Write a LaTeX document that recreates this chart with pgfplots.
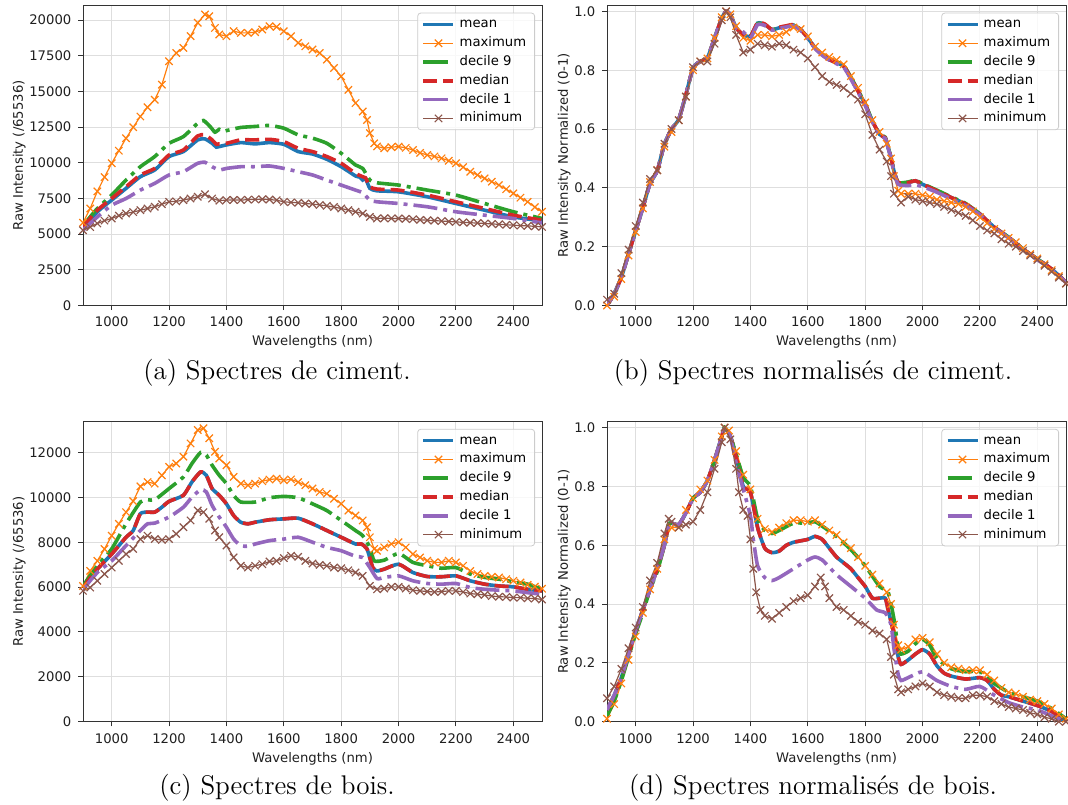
\documentclass[border=0pt]{standalone}
\usepackage{fontspec}
\usepackage{pgfplots}
\pgfplotsset{compat=1.18}
\newfontfamily\dv{DejaVu Sans}
\definecolor{c1}{HTML}{1F77B4}
\definecolor{c2}{HTML}{FF7F0E}
\definecolor{c3}{HTML}{2CA02C}
\definecolor{c4}{HTML}{D62728}
\definecolor{c5}{HTML}{9467BD}
\definecolor{c6}{HTML}{8C564B}
\newcommand{\mplfont}{\dv\fontsize{6.6}{7.9}\selectfont}
\pgfplotsset{
  meanS/.style={color=c1, line width=1.8pt, smooth, tension=0.35},
  maxS/.style={color=c2, line width=0.6pt, mark=x, mark size=2.6pt, mark options={solid, line width=0.6pt}},
  d9S/.style={color=c3, line width=1.8pt, smooth, tension=0.35, dash pattern=on 12pt off 3pt on 2pt off 3pt},
  medS/.style={color=c4, line width=1.8pt, smooth, tension=0.35, dash pattern=on 7pt off 3pt},
  d1S/.style={color=c5, line width=1.8pt, smooth, tension=0.35, dash pattern=on 12pt off 3pt on 2pt off 3pt},
  minS/.style={color=c6, line width=0.6pt, mark=x, mark size=2.6pt, mark options={solid, line width=0.6pt}},
  base/.style={
    width=229.5pt, height=150pt, scale only axis,
    xmin=900, xmax=2500, ymin=0,
    xtick={1000,1200,...,2400},
    scaled ticks=false,
    grid=major, major grid style={line width=0.5pt, draw=black!13},
    axis line style={line width=0.5pt, draw=black!80},
    every tick/.style={line width=0.5pt, draw=black!80},
    tick align=outside, major tick length=2.3pt,
    xtick pos=left, ytick pos=left,
    tick label style={font=\mplfont, color=black!88},
    label style={font=\mplfont, color=black!88},
    ylabel shift=-5pt, xlabel shift=-2.5pt,
    /pgf/number format/assume math mode=true,
    /pgf/number format/1000 sep={},
    xlabel={Wavelengths (nm)},
    legend cell align=left,
    legend style={at={(1,1)}, anchor=north east, xshift=-3.5pt, yshift=-3.6pt,
      draw=black!20, rounded corners=1.5pt, fill=white, fill opacity=0.8, text opacity=1,
      font=\mplfont, inner xsep=2pt, inner ysep=1.5pt, row sep=1.1pt,
      nodes={inner ysep=1pt, inner xsep=2.2pt, text height=4.9pt, text depth=1.4pt}},
    legend image code/.code={\draw[mark repeat=2,mark phase=2] plot coordinates {(0pt,0pt) (7.5pt,0pt) (15pt,0pt)};},
  },
  normy/.style={ymax=1.02, ytick={0,0.2,...,1.0},
    yticklabel style={/pgf/number format/.cd, fixed, fixed zerofill, precision=1},
    ylabel={Raw Intensity Normalized (0-1)}},
}
\begin{document}
\begin{tikzpicture}
\path[use as bounding box] (0,0) rectangle (534pt,402pt);

% ---------------- (a) cement raw
\begin{axis}[base, at={(41.5pt,249.25pt)}, anchor=south west,
  ymax=21030, ytick={0,2500,...,20000}, ylabel={Raw Intensity (/65536)}]
\addplot[meanS] coordinates {(900,5390)(950,6570)(1000,7390)(1050,8210)(1100,9030)(1150,9500)(1200,10440)(1250,10790)(1300,11610)(1325,11680)(1350,11370)(1365,11100)(1375,11140)(1400,11260)(1450,11420)(1500,11330)(1550,11420)(1600,11300)(1650,10790)(1700,10620)(1750,10250)(1800,9730)(1850,9080)(1865,9000)(1875,8800)(1885,8900)(1900,8210)(1925,8040)(2000,7970)(2100,7620)(2200,7150)(2300,6680)(2400,6210)(2500,5930)};
\addlegendentry{mean}
\addplot[maxS] coordinates {(900,5800)(925,6800)(950,8000)(975,9000)(1000,9970)(1025,10850)(1050,11720)(1075,12500)(1100,13250)(1125,13900)(1150,14420)(1175,15480)(1200,17120)(1225,17700)(1250,18060)(1275,18880)(1300,19820)(1325,20400)(1340,20280)(1360,19460)(1375,19000)(1400,18880)(1425,19230)(1450,19110)(1475,19110)(1500,19160)(1525,19350)(1550,19580)(1575,19530)(1600,19230)(1625,18880)(1650,18410)(1675,18170)(1700,17940)(1725,17700)(1750,17240)(1775,16650)(1800,16060)(1825,15120)(1850,14190)(1875,13600)(1890,13000)(1900,12080)(1915,11370)(1925,11150)(1950,11020)(1975,11100)(2000,11140)(2025,11050)(2050,10900)(2075,10700)(2100,10550)(2125,10450)(2150,10320)(2175,10150)(2200,9970)(2225,9700)(2250,9380)(2275,9150)(2300,8910)(2325,8680)(2350,8440)(2375,8150)(2400,7860)(2425,7560)(2450,7270)(2475,6900)(2500,6570)};
\addlegendentry{maximum}
\addplot[d9S] coordinates {(900,5600)(950,6800)(1000,7740)(1050,8790)(1100,9730)(1150,10440)(1200,11370)(1250,11840)(1300,12780)(1320,12970)(1345,12500)(1360,12150)(1375,12350)(1390,12200)(1400,12260)(1450,12480)(1500,12550)(1550,12620)(1600,12430)(1650,11960)(1700,11730)(1750,11370)(1800,10670)(1850,9850)(1875,9610)(1900,8790)(1925,8600)(2000,8440)(2100,8090)(2200,7740)(2300,7150)(2400,6570)(2500,6100)};
\addlegendentry{decile 9}
\addplot[medS] coordinates {(900,5510)(950,6680)(1000,7500)(1050,8320)(1100,9150)(1150,9610)(1200,10550)(1250,10900)(1300,11890)(1325,11960)(1350,11610)(1365,11300)(1375,11330)(1400,11370)(1450,11610)(1500,11610)(1550,11650)(1600,11490)(1650,11020)(1700,10790)(1750,10440)(1800,9970)(1850,9260)(1875,9030)(1885,8950)(1900,8320)(1925,8160)(2000,8090)(2100,7740)(2200,7270)(2300,6800)(2400,6330)(2500,5980)};
\addlegendentry{median}
\addplot[d1S] coordinates {(900,5280)(950,6210)(1000,7030)(1050,7500)(1100,8090)(1150,8560)(1200,9150)(1250,9380)(1300,9970)(1325,10040)(1350,9730)(1375,9500)(1400,9610)(1450,9730)(1500,9730)(1550,9780)(1600,9610)(1650,9380)(1700,9150)(1750,8790)(1800,8440)(1850,8090)(1875,7900)(1900,7390)(1925,7270)(2000,7150)(2100,6920)(2200,6570)(2300,6330)(2400,6100)(2500,5790)};
\addlegendentry{decile 1}
\addplot[minS] coordinates {(900,5280)(925,5500)(950,5750)(975,5950)(1000,6100)(1025,6300)(1050,6450)(1075,6550)(1100,6680)(1125,6800)(1150,6920)(1175,7100)(1200,7270)(1225,7300)(1250,7390)(1275,7500)(1300,7620)(1325,7800)(1350,7500)(1375,7350)(1400,7390)(1425,7400)(1450,7390)(1475,7420)(1500,7430)(1525,7450)(1550,7430)(1575,7380)(1600,7270)(1625,7230)(1650,7200)(1675,7150)(1700,7110)(1725,7050)(1750,6990)(1775,6900)(1800,6800)(1825,6680)(1850,6570)(1875,6450)(1900,6210)(1925,6100)(1950,6120)(1975,6100)(2000,6100)(2025,6080)(2050,6050)(2075,6000)(2100,5980)(2125,5950)(2150,5920)(2175,5890)(2200,5860)(2225,5830)(2250,5800)(2275,5780)(2300,5750)(2325,5720)(2350,5690)(2375,5660)(2400,5630)(2425,5600)(2450,5580)(2475,5550)(2500,5510)};
\addlegendentry{minimum}
\end{axis}

% ---------------- (b) cement normalized
\begin{axis}[base, normy, at={(303.5pt,249.25pt)}, anchor=south west]
\addplot[meanS] coordinates {(900,0.0)(925,0.04)(950,0.096)(975,0.175)(1000,0.254)(1025,0.333)(1050,0.415)(1075,0.458)(1100,0.548)(1125,0.60)(1150,0.633)(1175,0.717)(1200,0.808)(1225,0.83)(1250,0.842)(1275,0.91)(1300,0.977)(1315,1.0)(1330,0.989)(1350,0.944)(1375,0.921)(1400,0.915)(1425,0.96)(1450,0.955)(1475,0.938)(1500,0.944)(1525,0.949)(1550,0.953)(1575,0.938)(1600,0.91)(1625,0.876)(1650,0.853)(1675,0.836)(1700,0.825)(1725,0.814)(1750,0.774)(1775,0.729)(1800,0.684)(1825,0.627)(1850,0.582)(1870,0.57)(1880,0.537)(1890,0.503)(1900,0.458)(1915,0.418)(1950,0.418)(1975,0.424)(2000,0.412)(2050,0.39)(2100,0.367)(2150,0.345)(2200,0.311)(2250,0.266)(2300,0.232)(2350,0.192)(2400,0.158)(2450,0.124)(2500,0.079)};
\addlegendentry{mean}
\addplot[maxS] coordinates {(900,0.0)(925,0.03)(950,0.09)(975,0.17)(1000,0.25)(1025,0.33)(1050,0.42)(1075,0.46)(1100,0.54)(1125,0.59)(1150,0.63)(1175,0.71)(1200,0.80)(1225,0.83)(1250,0.84)(1275,0.91)(1300,0.98)(1315,1.0)(1330,0.99)(1350,0.95)(1375,0.91)(1400,0.90)(1425,0.92)(1450,0.92)(1475,0.915)(1500,0.92)(1525,0.93)(1550,0.945)(1575,0.94)(1600,0.915)(1625,0.88)(1650,0.86)(1675,0.845)(1700,0.835)(1725,0.82)(1750,0.78)(1775,0.74)(1800,0.69)(1825,0.63)(1850,0.59)(1875,0.55)(1890,0.50)(1900,0.44)(1915,0.39)(1925,0.38)(1950,0.38)(1975,0.38)(2000,0.375)(2025,0.37)(2050,0.36)(2075,0.355)(2100,0.35)(2125,0.345)(2150,0.335)(2175,0.32)(2200,0.30)(2225,0.28)(2250,0.26)(2275,0.245)(2300,0.23)(2325,0.215)(2350,0.195)(2375,0.175)(2400,0.16)(2425,0.14)(2450,0.12)(2475,0.10)(2500,0.075)};
\addlegendentry{maximum}
\addplot[d9S] coordinates {(900,0.0)(925,0.04)(950,0.096)(975,0.175)(1000,0.254)(1025,0.333)(1050,0.415)(1075,0.458)(1100,0.548)(1125,0.60)(1150,0.633)(1175,0.717)(1200,0.808)(1225,0.83)(1250,0.842)(1275,0.91)(1300,0.977)(1315,1.0)(1330,0.989)(1350,0.944)(1375,0.921)(1400,0.915)(1425,0.958)(1450,0.955)(1475,0.938)(1500,0.944)(1525,0.949)(1550,0.953)(1575,0.938)(1600,0.91)(1625,0.876)(1650,0.853)(1675,0.836)(1700,0.827)(1725,0.816)(1750,0.776)(1775,0.731)(1800,0.686)(1825,0.627)(1850,0.584)(1870,0.572)(1880,0.537)(1890,0.503)(1900,0.458)(1915,0.418)(1950,0.42)(1975,0.426)(2000,0.414)(2050,0.392)(2100,0.369)(2150,0.347)(2200,0.311)(2250,0.266)(2300,0.232)(2350,0.192)(2400,0.158)(2450,0.124)(2500,0.079)};
\addlegendentry{decile 9}
\addplot[medS] coordinates {(900,0.0)(925,0.04)(950,0.096)(975,0.175)(1000,0.254)(1025,0.333)(1050,0.415)(1075,0.458)(1100,0.548)(1125,0.60)(1150,0.633)(1175,0.717)(1200,0.808)(1225,0.83)(1250,0.842)(1275,0.91)(1300,0.977)(1315,1.0)(1330,0.989)(1350,0.944)(1375,0.921)(1400,0.915)(1425,0.962)(1450,0.957)(1475,0.938)(1500,0.946)(1525,0.951)(1550,0.955)(1575,0.938)(1600,0.91)(1625,0.876)(1650,0.853)(1675,0.836)(1700,0.825)(1725,0.814)(1750,0.774)(1775,0.729)(1800,0.684)(1825,0.627)(1850,0.582)(1870,0.57)(1880,0.537)(1890,0.503)(1900,0.458)(1915,0.418)(1950,0.418)(1975,0.424)(2000,0.412)(2050,0.39)(2100,0.367)(2150,0.345)(2200,0.311)(2250,0.266)(2300,0.232)(2350,0.192)(2400,0.158)(2450,0.124)(2500,0.079)};
\addlegendentry{median}
\addplot[d1S] coordinates {(900,0.0)(925,0.04)(950,0.096)(975,0.175)(1000,0.254)(1025,0.333)(1050,0.415)(1075,0.458)(1100,0.548)(1125,0.60)(1150,0.633)(1175,0.717)(1200,0.808)(1225,0.83)(1250,0.842)(1275,0.91)(1300,0.977)(1315,1.0)(1330,0.989)(1350,0.944)(1375,0.93)(1400,0.91)(1425,0.955)(1450,0.952)(1475,0.936)(1500,0.942)(1525,0.947)(1550,0.951)(1575,0.936)(1600,0.908)(1625,0.874)(1650,0.851)(1675,0.834)(1700,0.822)(1725,0.81)(1750,0.77)(1775,0.725)(1800,0.68)(1825,0.624)(1850,0.58)(1870,0.568)(1880,0.535)(1890,0.50)(1900,0.455)(1915,0.412)(1950,0.408)(1975,0.41)(2000,0.404)(2050,0.385)(2100,0.362)(2150,0.34)(2200,0.308)(2250,0.264)(2300,0.23)(2350,0.19)(2400,0.156)(2450,0.122)(2500,0.078)};
\addlegendentry{decile 1}
\addplot[minS] coordinates {(900,0.02)(925,0.04)(950,0.11)(975,0.19)(1000,0.27)(1025,0.35)(1050,0.43)(1075,0.46)(1100,0.55)(1125,0.60)(1150,0.63)(1175,0.71)(1200,0.81)(1225,0.83)(1250,0.83)(1275,0.89)(1300,0.97)(1315,1.0)(1330,0.98)(1350,0.92)(1375,0.86)(1400,0.87)(1425,0.89)(1450,0.885)(1475,0.88)(1500,0.89)(1525,0.885)(1550,0.87)(1575,0.86)(1600,0.84)(1625,0.81)(1650,0.78)(1675,0.76)(1700,0.75)(1725,0.74)(1750,0.72)(1775,0.70)(1800,0.65)(1825,0.58)(1850,0.53)(1875,0.49)(1890,0.44)(1900,0.38)(1925,0.35)(1950,0.37)(1975,0.36)(2000,0.355)(2025,0.35)(2050,0.345)(2075,0.335)(2100,0.325)(2125,0.315)(2150,0.305)(2175,0.29)(2200,0.27)(2225,0.255)(2250,0.245)(2275,0.225)(2300,0.21)(2325,0.2)(2350,0.185)(2375,0.17)(2400,0.155)(2425,0.135)(2450,0.115)(2475,0.095)(2500,0.075)};
\addlegendentry{minimum}
\end{axis}

% ---------------- (c) wood raw
\begin{axis}[base, at={(41.5pt,41.15pt)}, anchor=south west,
  ymax=13370, ytick={0,2000,...,12000}, ylabel={Raw Intensity (/65536)}]
\addplot[meanS] coordinates {(900,5980)(950,6800)(1000,7470)(1050,8220)(1075,8520)(1100,9270)(1125,9340)(1150,9340)(1175,9560)(1200,9820)(1250,10090)(1280,10690)(1310,11130)(1330,10980)(1350,10390)(1375,10090)(1400,9710)(1425,9190)(1450,8890)(1475,8820)(1500,8890)(1550,9000)(1600,9040)(1650,9070)(1700,8820)(1750,8520)(1800,8220)(1850,7920)(1870,7920)(1890,7700)(1910,6870)(1925,6720)(1950,6800)(2000,7020)(2050,6650)(2100,6470)(2150,6460)(2200,6500)(2250,6280)(2300,6130)(2350,6050)(2400,6010)(2450,5900)(2500,5830)};
\addlegendentry{mean}
\addplot[maxS] coordinates {(900,6050)(925,6720)(950,7170)(975,7700)(1000,8290)(1025,8820)(1050,9340)(1075,9830)(1100,10490)(1125,10680)(1150,10610)(1175,10980)(1200,11360)(1225,11510)(1250,11810)(1275,12400)(1300,13000)(1320,13080)(1340,12630)(1360,12030)(1375,11730)(1400,11430)(1425,10910)(1450,10610)(1475,10540)(1500,10610)(1525,10720)(1550,10790)(1575,10830)(1600,10760)(1625,10800)(1650,10680)(1675,10540)(1700,10390)(1725,10240)(1750,10160)(1775,9940)(1800,9710)(1825,9410)(1850,9190)(1875,8970)(1890,8670)(1900,8220)(1915,7700)(1925,7620)(1950,7770)(1975,7920)(2000,8000)(2025,7770)(2050,7470)(2075,7320)(2100,7170)(2125,7100)(2150,7100)(2175,7170)(2200,7100)(2225,6950)(2250,6720)(2275,6580)(2300,6500)(2325,6460)(2350,6430)(2375,6350)(2400,6280)(2425,6200)(2450,6100)(2475,6020)(2500,5930)};
\addlegendentry{maximum}
\addplot[d9S] coordinates {(900,6050)(950,6950)(1000,7700)(1050,8820)(1100,9790)(1125,9890)(1150,9890)(1200,10390)(1250,10910)(1280,11510)(1310,12000)(1330,11880)(1350,11430)(1375,10980)(1400,10610)(1425,10090)(1450,9790)(1500,9790)(1550,9980)(1600,10040)(1650,9980)(1700,9710)(1750,9410)(1800,8970)(1850,8520)(1875,8290)(1900,7770)(1915,7170)(1950,7200)(2000,7500)(2050,7100)(2100,6950)(2150,6840)(2200,6870)(2250,6580)(2300,6430)(2350,6350)(2400,6230)(2450,6130)(2500,5900)};
\addlegendentry{decile 9}
\addplot[medS] coordinates {(900,5980)(950,6800)(1000,7470)(1050,8220)(1075,8520)(1100,9270)(1125,9340)(1150,9340)(1175,9560)(1200,9820)(1250,10090)(1280,10690)(1310,11130)(1330,10980)(1350,10390)(1375,10090)(1400,9710)(1425,9190)(1450,8890)(1475,8820)(1500,8890)(1550,9000)(1600,9040)(1650,9070)(1700,8820)(1750,8520)(1800,8220)(1850,7920)(1870,7920)(1890,7700)(1910,6870)(1925,6720)(1950,6800)(2000,7020)(2050,6650)(2100,6470)(2150,6460)(2200,6500)(2250,6280)(2300,6130)(2350,6050)(2400,6010)(2450,5900)(2500,5830)};
\addlegendentry{median}
\addplot[d1S] coordinates {(900,5900)(950,6650)(1000,7170)(1050,7850)(1100,8520)(1125,8820)(1150,8850)(1200,9120)(1250,9560)(1280,10010)(1310,10340)(1330,10240)(1350,9640)(1375,9120)(1400,8670)(1425,8140)(1450,7850)(1475,7820)(1500,7920)(1550,8070)(1600,8140)(1650,8220)(1700,8000)(1750,7770)(1800,7620)(1850,7370)(1875,7320)(1900,6870)(1925,6380)(1950,6430)(2000,6500)(2050,6280)(2100,6160)(2150,6130)(2200,6160)(2250,5980)(2300,5900)(2350,5860)(2400,5830)(2450,5750)(2500,5680)};
\addlegendentry{decile 1}
\addplot[minS] coordinates {(900,5830)(925,5980)(950,6280)(975,6580)(1000,6870)(1025,7170)(1050,7470)(1075,7700)(1100,8140)(1125,8290)(1150,8140)(1175,8100)(1200,8140)(1225,8370)(1250,8670)(1275,8970)(1300,9410)(1320,9340)(1340,9040)(1360,8520)(1375,8220)(1400,7850)(1425,7320)(1450,6950)(1475,6870)(1500,6950)(1525,7020)(1550,7140)(1575,7170)(1600,7290)(1625,7400)(1650,7350)(1675,7170)(1700,7050)(1725,6990)(1750,6950)(1775,6870)(1800,6840)(1825,6750)(1850,6650)(1875,6500)(1900,6050)(1925,5900)(1950,5940)(1975,6010)(2000,6010)(2025,5940)(2050,5860)(2075,5830)(2100,5800)(2125,5780)(2150,5800)(2175,5830)(2200,5830)(2225,5780)(2250,5710)(2275,5680)(2300,5650)(2325,5600)(2350,5570)(2375,5560)(2400,5530)(2425,5530)(2450,5500)(2475,5490)(2500,5450)};
\addlegendentry{minimum}
\end{axis}

% ---------------- (d) wood normalized
\begin{axis}[base, normy, at={(303.5pt,41.15pt)}, anchor=south west]
\addplot[meanS] coordinates {(900,0.04)(925,0.09)(950,0.15)(975,0.23)(1000,0.31)(1025,0.38)(1050,0.45)(1075,0.52)(1100,0.60)(1115,0.67)(1125,0.675)(1150,0.67)(1175,0.71)(1200,0.76)(1225,0.78)(1250,0.82)(1275,0.89)(1300,0.97)(1310,1.0)(1330,0.97)(1350,0.90)(1375,0.80)(1400,0.78)(1425,0.66)(1450,0.59)(1475,0.575)(1500,0.58)(1525,0.60)(1550,0.61)(1575,0.615)(1600,0.62)(1625,0.63)(1650,0.62)(1675,0.59)(1700,0.56)(1725,0.54)(1750,0.52)(1775,0.49)(1800,0.46)(1825,0.42)(1850,0.42)(1870,0.42)(1880,0.38)(1900,0.30)(1915,0.22)(1925,0.195)(1950,0.21)(1975,0.23)(2000,0.245)(2025,0.23)(2050,0.19)(2075,0.165)(2100,0.155)(2150,0.145)(2200,0.15)(2225,0.14)(2250,0.11)(2275,0.09)(2300,0.085)(2350,0.07)(2400,0.055)(2450,0.035)(2475,0.015)(2500,0.0)};
\addlegendentry{mean}
\addplot[maxS] coordinates {(900,0.01)(925,0.06)(950,0.13)(975,0.21)(1000,0.29)(1025,0.37)(1050,0.45)(1075,0.52)(1100,0.62)(1125,0.66)(1150,0.66)(1175,0.72)(1200,0.76)(1225,0.79)(1250,0.82)(1275,0.89)(1300,0.97)(1310,1.0)(1325,0.99)(1350,0.92)(1375,0.84)(1400,0.79)(1425,0.69)(1450,0.655)(1475,0.645)(1500,0.66)(1525,0.675)(1550,0.685)(1575,0.685)(1600,0.68)(1625,0.685)(1650,0.67)(1675,0.65)(1700,0.635)(1725,0.61)(1750,0.59)(1775,0.56)(1800,0.53)(1825,0.50)(1850,0.47)(1875,0.44)(1890,0.40)(1900,0.33)(1915,0.26)(1925,0.245)(1950,0.255)(1975,0.28)(2000,0.285)(2025,0.27)(2050,0.23)(2075,0.2)(2100,0.185)(2125,0.18)(2150,0.175)(2175,0.175)(2200,0.175)(2225,0.16)(2250,0.14)(2275,0.115)(2300,0.1)(2325,0.095)(2350,0.085)(2375,0.075)(2400,0.07)(2425,0.06)(2450,0.045)(2475,0.025)(2500,0.01)};
\addlegendentry{maximum}
\addplot[d9S] coordinates {(900,0.02)(925,0.07)(950,0.14)(975,0.22)(1000,0.30)(1025,0.37)(1050,0.45)(1075,0.51)(1100,0.60)(1115,0.67)(1125,0.675)(1150,0.67)(1175,0.71)(1200,0.76)(1225,0.78)(1250,0.82)(1275,0.89)(1300,0.97)(1310,1.0)(1330,0.97)(1350,0.91)(1375,0.83)(1400,0.80)(1425,0.69)(1450,0.65)(1475,0.64)(1500,0.65)(1550,0.675)(1600,0.675)(1625,0.68)(1650,0.665)(1700,0.63)(1750,0.585)(1800,0.53)(1850,0.46)(1880,0.44)(1900,0.35)(1915,0.25)(1925,0.23)(1950,0.24)(1975,0.265)(2000,0.28)(2025,0.26)(2050,0.215)(2100,0.18)(2150,0.17)(2200,0.17)(2250,0.13)(2300,0.10)(2350,0.085)(2400,0.07)(2450,0.045)(2500,0.01)};
\addlegendentry{decile 9}
\addplot[medS] coordinates {(900,0.04)(925,0.09)(950,0.15)(975,0.23)(1000,0.31)(1025,0.38)(1050,0.45)(1075,0.52)(1100,0.60)(1115,0.67)(1125,0.675)(1150,0.67)(1175,0.71)(1200,0.76)(1225,0.78)(1250,0.82)(1275,0.89)(1300,0.97)(1310,1.0)(1330,0.97)(1350,0.90)(1375,0.80)(1400,0.78)(1425,0.66)(1450,0.59)(1475,0.575)(1500,0.58)(1525,0.60)(1550,0.61)(1575,0.615)(1600,0.62)(1625,0.63)(1650,0.62)(1675,0.59)(1700,0.56)(1725,0.54)(1750,0.52)(1775,0.49)(1800,0.46)(1825,0.42)(1850,0.42)(1870,0.42)(1880,0.38)(1900,0.30)(1915,0.22)(1925,0.195)(1950,0.21)(1975,0.23)(2000,0.245)(2025,0.23)(2050,0.19)(2075,0.165)(2100,0.155)(2150,0.145)(2200,0.15)(2225,0.14)(2250,0.11)(2275,0.09)(2300,0.085)(2350,0.07)(2400,0.055)(2450,0.035)(2475,0.015)(2500,0.0)};
\addlegendentry{median}
\addplot[d1S] coordinates {(900,0.04)(925,0.09)(950,0.15)(975,0.23)(1000,0.31)(1025,0.38)(1050,0.45)(1075,0.52)(1100,0.60)(1115,0.67)(1125,0.675)(1150,0.67)(1175,0.71)(1200,0.76)(1225,0.78)(1250,0.82)(1275,0.89)(1300,0.97)(1310,1.0)(1330,0.97)(1350,0.88)(1375,0.79)(1400,0.70)(1410,0.62)(1425,0.53)(1450,0.49)(1475,0.48)(1500,0.49)(1550,0.52)(1600,0.55)(1625,0.56)(1650,0.55)(1700,0.50)(1750,0.46)(1800,0.42)(1840,0.38)(1870,0.37)(1890,0.33)(1900,0.25)(1915,0.16)(1925,0.14)(1950,0.15)(2000,0.17)(2050,0.14)(2100,0.12)(2150,0.11)(2200,0.12)(2250,0.09)(2300,0.065)(2350,0.05)(2400,0.04)(2450,0.02)(2500,0.0)};
\addlegendentry{decile 1}
\addplot[minS] coordinates {(900,0.08)(925,0.12)(950,0.18)(975,0.25)(1000,0.32)(1025,0.39)(1050,0.48)(1075,0.54)(1100,0.64)(1115,0.69)(1125,0.68)(1150,0.66)(1175,0.67)(1200,0.68)(1225,0.72)(1250,0.78)(1275,0.86)(1300,0.95)(1310,1.0)(1330,0.96)(1350,0.86)(1360,0.78)(1375,0.72)(1390,0.70)(1400,0.62)(1410,0.52)(1420,0.44)(1435,0.38)(1450,0.36)(1475,0.35)(1500,0.37)(1525,0.39)(1550,0.41)(1575,0.42)(1600,0.43)(1625,0.46)(1645,0.49)(1660,0.46)(1675,0.42)(1700,0.39)(1725,0.38)(1750,0.36)(1775,0.34)(1800,0.33)(1825,0.31)(1850,0.30)(1875,0.28)(1890,0.22)(1900,0.16)(1915,0.11)(1925,0.10)(1950,0.11)(1975,0.12)(2000,0.13)(2025,0.12)(2050,0.10)(2075,0.09)(2100,0.085)(2125,0.08)(2150,0.08)(2175,0.09)(2200,0.09)(2225,0.085)(2250,0.07)(2275,0.06)(2300,0.05)(2325,0.045)(2350,0.04)(2375,0.03)(2400,0.025)(2425,0.015)(2450,0.01)(2475,0.0)(2500,0.0)};
\addlegendentry{minimum}
\end{axis}

\node[anchor=base, font=\fontsize{13.5}{16}\selectfont] at (138.5pt,212.5pt) {(a) Spectres de ciment.};
\node[anchor=base, font=\fontsize{13.5}{16}\selectfont] at (406.5pt,212.5pt) {(b) Spectres normalisés de ciment.};
\node[anchor=base, font=\fontsize{13.5}{16}\selectfont] at (138.5pt,4.65pt) {(c) Spectres de bois.};
\node[anchor=base, font=\fontsize{13.5}{16}\selectfont] at (406.5pt,4.65pt) {(d) Spectres normalisés de bois.};
\end{tikzpicture}
\end{document}
